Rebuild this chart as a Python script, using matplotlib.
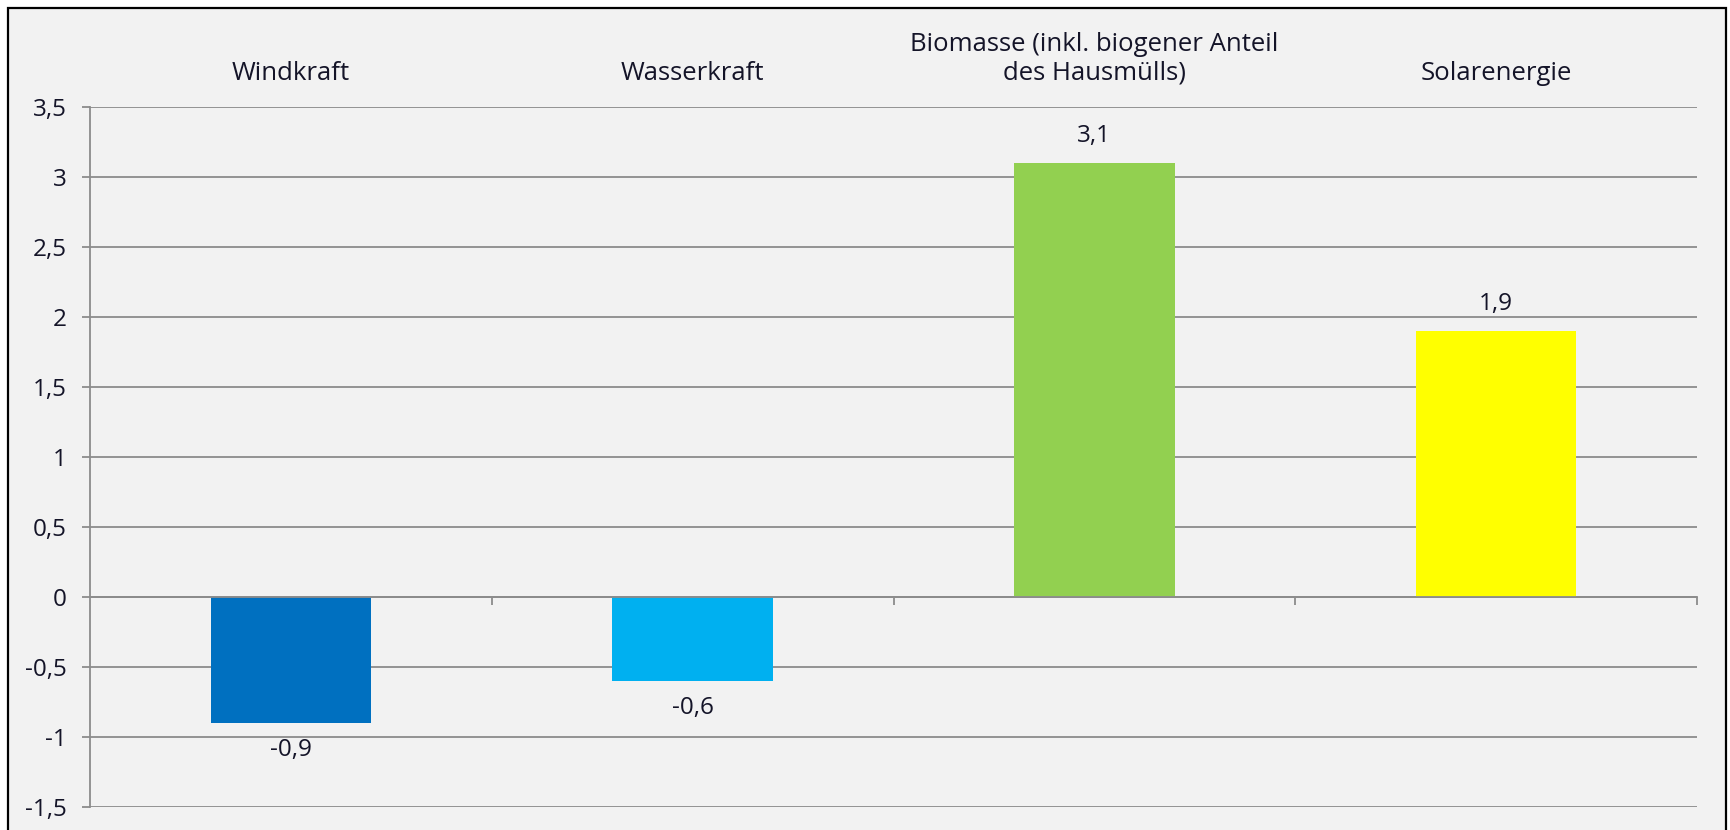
import matplotlib
matplotlib.use('Agg')
import matplotlib.pyplot as plt
from matplotlib.patches import Rectangle
from matplotlib.ticker import FuncFormatter, MultipleLocator
import matplotlib.transforms as mtransforms

# data
categories = ['Windkraft', 'Wasserkraft', 'Biomasse (inkl. biogener Anteil\ndes Hausmülls)', 'Solarenergie']
values = [-0.9, -0.6, 3.1, 1.9]
colors = ['#0070c0', '#00b0f0', '#92d050', '#ffff00']

plt.rcParams['font.family'] = ['Open Sans', 'DejaVu Sans']
text_color = '#141428'
grid_color = '#8c8c8c'

fig = plt.figure(figsize=(17.3, 8.3), dpi=100)
fig.patch.set_facecolor('white')

# grey panel with black frame (bottom edge runs off the picture)
fig.patches.append(Rectangle((8 / 1730, -0.05), (1726 - 8) / 1730, 1.05 - 8 / 830,
                             transform=fig.transFigure, facecolor='#f2f2f2',
                             edgecolor='black', linewidth=1.6, zorder=-10))

ax = fig.add_axes([90 / 1730, 23 / 830, (1697 - 90) / 1730, (807 - 107) / 830])
ax.set_zorder(1)
ax.set_facecolor('none')

x = list(range(len(categories)))
ax.bar(x, values, width=0.4, color=colors, zorder=3)

ax.set_xlim(-0.5, len(categories) - 0.5)
ax.set_ylim(-1.5, 3.5)
ax.yaxis.set_major_locator(MultipleLocator(0.5))
ax.yaxis.set_major_formatter(FuncFormatter(lambda v, p: ('%g' % v).replace('.', ',')))
ax.grid(axis='y', color=grid_color, linewidth=1.3, zorder=1)

for s in ['top', 'right']:
    ax.spines[s].set_visible(False)
ax.spines['left'].set_color(grid_color)
ax.spines['left'].set_linewidth(1.3)
ax.spines['bottom'].set_position(('data', 0))
ax.spines['bottom'].set_color(grid_color)
ax.spines['bottom'].set_linewidth(1.3)
ax.spines['bottom'].set_zorder(4)

ax.set_xticks([i + 0.5 for i in range(len(categories))])
ax.set_xticklabels([])
ax.tick_params(axis='x', direction='out', length=6, width=1.3, color=grid_color)
ax.tick_params(axis='y', direction='out', length=6, width=1.3, color=grid_color,
               labelsize=17.5, labelcolor=text_color, pad=11)

# category names above the plot
trans = mtransforms.blended_transform_factory(ax.transData, ax.transAxes)
for i, c in enumerate(categories):
    ax.text(i, 1.03, c, transform=trans, ha='center', va='bottom',
            fontsize=18.5, color=text_color, linespacing=1.22)

# value labels
for i, v in enumerate(values):
    lab = ('%g' % v).replace('.', ',')
    off = 11 if v >= 0 else -11
    ax.annotate(lab, (i, v), xytext=(0, off), textcoords='offset points',
                ha='center', va='bottom' if v >= 0 else 'top',
                fontsize=17.5, color=text_color)

fig.savefig('out.png', dpi=100)
